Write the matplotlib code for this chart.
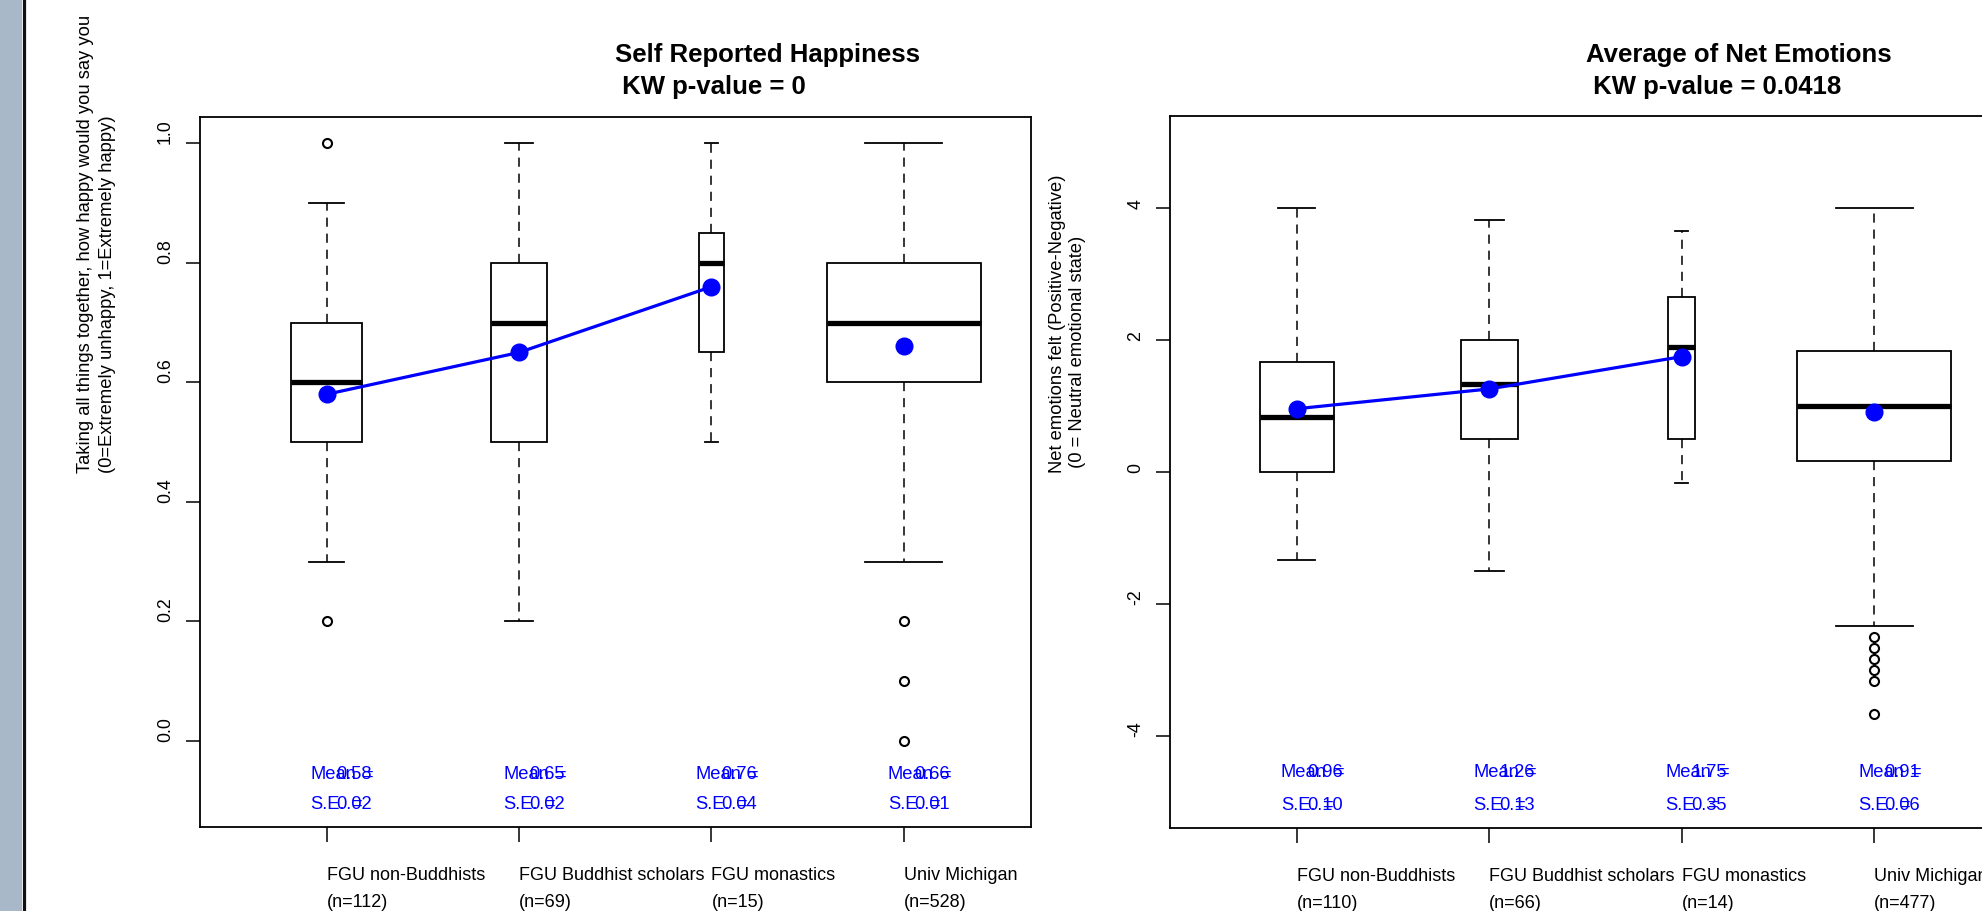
import matplotlib
matplotlib.use('Agg')
import matplotlib.pyplot as plt
from matplotlib.transforms import offset_copy
from matplotlib.patches import Rectangle
from matplotlib.lines import Line2D

plt.rcParams['font.family'] = ['Liberation Sans', 'DejaVu Sans']

# ---------------- data ----------------
groups = ["FGU non-Buddhists", "FGU Buddhist scholars", "FGU monastics", "Univ Michigan"]

hap_title = "Self Reported Happiness"
hap_kw = " KW p-value = 0"
hap_ylab1 = "Taking all things together, how happy would you say you"
hap_ylab2 = "(0=Extremely unhappy, 1=Extremely happy)"
hap_n = [112, 69, 15, 528]
hap_q1 = [0.5, 0.5, 0.65, 0.6]
hap_med = [0.6, 0.7, 0.8, 0.7]
hap_q3 = [0.7, 0.8, 0.85, 0.8]
hap_wlo = [0.3, 0.2, 0.5, 0.3]
hap_whi = [0.9, 1.0, 1.0, 1.0]
hap_fliers = [[1.0, 0.2], [], [], [0.2, 0.1, 0.0]]
hap_mean = [0.58, 0.65, 0.76, 0.66]
hap_se = [0.02, 0.02, 0.04, 0.01]
hap_yticks = [0.0, 0.2, 0.4, 0.6, 0.8, 1.0]
hap_yticklabels = ["0.0", "0.2", "0.4", "0.6", "0.8", "1.0"]
hap_text_y = [-0.05, -0.10]
hap_ylim = (-0.144, 1.044)

emo_title = "Average of Net Emotions"
emo_kw = " KW p-value = 0.0418"
emo_ylab1 = "Net emotions felt (Positive-Negative)"
emo_ylab2 = " (0 = Neutral emotional state)"
emo_n = [110, 66, 14, 477]
emo_q1 = [0.0, 0.5, 0.5, 0.17]
emo_med = [0.83, 1.33, 1.9, 1.0]
emo_q3 = [1.67, 2.0, 2.66, 1.84]
emo_wlo = [-1.33, -1.5, -0.17, -2.33]
emo_whi = [4.0, 3.83, 3.65, 4.0]
emo_fliers = [[], [], [], [-2.5, -2.67, -2.83, -3.0, -3.17, -3.67]]
emo_mean = [0.96, 1.26, 1.75, 0.91]
emo_se = [0.10, 0.13, 0.35, 0.06]
emo_yticks = [-4, -2, 0, 2, 4]
emo_yticklabels = ["-4", "-2", "0", "2", "4"]
emo_text_y = [-4.5, -5.0]
emo_ylim = (-5.4, 5.4)

# ---------------- figure ----------------
W, H, DPI = 1982, 912, 100
fig = plt.figure(figsize=(W / DPI, H / DPI), dpi=DPI)
fig.patch.set_facecolor('white')

BLUE = '#0000ff'

# left grey-blue strip
fig.patches.append(Rectangle((0, 0), 22 / W, 1, transform=fig.transFigure,
                             facecolor='#a8b8c8', edgecolor='none', zorder=0))
fig.lines.append(Line2D([23.5 / W, 23.5 / W], [0, 1], transform=fig.transFigure,
                        color='#111111', linewidth=2.3))


def px_axes(x0, y0, x1, y1):
    return fig.add_axes([x0 / W, 1 - y1 / H, (x1 - x0) / W, (y1 - y0) / H])


def panel(ax, n, q1, med, q3, wlo, whi, fliers, mean, se, ylim, yticks, yticklabels,
          text_y, title, kw, ylab1, ylab2, ax_px, ylab_x):
    pos = [1, 2, 3, 4]
    nmax = max(n)
    widths = [0.8 * (k / nmax) ** 0.5 for k in n]
    stats = []
    for i in range(4):
        stats.append(dict(med=med[i], q1=q1[i], q3=q3[i], whislo=wlo[i], whishi=whi[i],
                          fliers=fliers[i]))
    ax.bxp(stats, positions=pos, widths=widths, capwidths=[w * 0.5 for w in widths],
           showfliers=True, patch_artist=True,
           boxprops=dict(facecolor='white', edgecolor='black', linewidth=1.3),
           medianprops=dict(color='black', linewidth=3.8, solid_capstyle='butt'),
           whiskerprops=dict(color='black', linewidth=1.1, linestyle=(0, (6, 4.5))),
           capprops=dict(color='black', linewidth=1.3),
           flierprops=dict(marker='o', markerfacecolor='none', markeredgecolor='black',
                           markersize=6.5, markeredgewidth=1.5))
    ax.plot(pos[:3], mean[:3], '-', color=BLUE, linewidth=2.3, zorder=5)
    ax.plot(pos, mean, 'o', color=BLUE, markersize=12, linestyle='none', zorder=6)

    # mean / se text
    fs = 13.2
    for i in range(4):
        for (lab, val, eq_off), ty in zip([("Mean", mean[i], 36), ("S.E.", se[i], 25)], text_y):
            ax.text(pos[i], ty, lab, color=BLUE, fontsize=fs, ha='left', va='center',
                    transform=offset_copy(ax.transData, fig=fig, x=-16, y=-3, units='dots'))
            ax.text(pos[i], ty, f"{val:.2f}", color=BLUE, fontsize=fs, ha='left', va='center',
                    transform=offset_copy(ax.transData, fig=fig, x=10, y=-3, units='dots'))
            ax.text(pos[i], ty, "=", color=BLUE, fontsize=fs, ha='left', va='center',
                    transform=offset_copy(ax.transData, fig=fig, x=eq_off, y=-3, units='dots'))

    ax.set_xlim(0.34, 4.66)
    ax.set_ylim(*ylim)
    ax.set_xticks(pos)
    ax.set_xticklabels([f"{g}\n(n={k})" for g, k in zip(groups, n)])
    for lab in ax.get_xticklabels():
        lab.set_ha('left')
        lab.set_multialignment('left')
        lab.set_linespacing(1.8)
    ax.set_yticks(yticks)
    ax.set_yticklabels(yticklabels)
    for lab in ax.get_yticklabels():
        lab.set_rotation(90)
        lab.set_rotation_mode('anchor')
        lab.set_ha('left')
        lab.set_va('center')
    ax.tick_params(axis='x', length=11, width=1.1, pad=17, labelsize=13, direction='out')
    ax.tick_params(axis='y', length=10, width=1.1, pad=14.5, labelsize=12.8, direction='out')
    for s in ax.spines.values():
        s.set_linewidth(1.3)

    x0, y0, x1, y1 = ax_px
    cx = (x0 + x1) / 2
    fig.text(cx / W, 1 - 62 / H, title, fontsize=18.5, fontweight='bold', ha='left', va='baseline')
    fig.text(cx / W, 1 - 94 / H, kw, fontsize=18.5, fontweight='bold', ha='left', va='baseline')
    cy = (y0 + y1) / 2
    fig.text(ylab_x[0] / W, 1 - cy / H, ylab1, fontsize=13.2, rotation=90, rotation_mode='anchor',
             ha='left', va='center')
    fig.text(ylab_x[1] / W, 1 - cy / H, ylab2, fontsize=13.2, rotation=90, rotation_mode='anchor',
             ha='left', va='center')


ax1_px = (199.5, 118, 1031, 828)
ax1 = px_axes(*ax1_px)
panel(ax1, hap_n, hap_q1, hap_med, hap_q3, hap_wlo, hap_whi, hap_fliers, hap_mean, hap_se,
      hap_ylim, hap_yticks, hap_yticklabels, hap_text_y, hap_title, hap_kw,
      hap_ylab1, hap_ylab2, ax1_px, (85, 108))

ax2_px = (1170, 117, 2001, 829)
ax2 = px_axes(*ax2_px)
panel(ax2, emo_n, emo_q1, emo_med, emo_q3, emo_wlo, emo_whi, emo_fliers, emo_mean, emo_se,
      emo_ylim, emo_yticks, emo_yticklabels, emo_text_y, emo_title, emo_kw,
      emo_ylab1, emo_ylab2, ax2_px, (1057, 1078))

fig.savefig('out.png', dpi=DPI)
